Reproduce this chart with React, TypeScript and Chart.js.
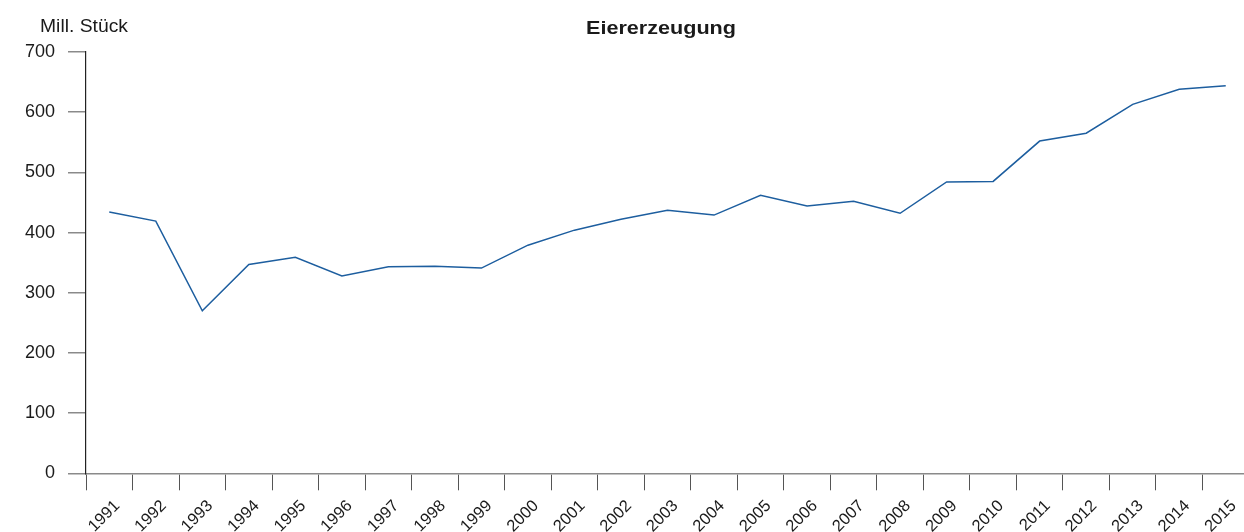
import React, { useEffect, useRef } from "react";
import { Chart, registerables } from "chart.js";

Chart.register(...registerables);

const years = ["1991","1992","1993","1994","1995","1996","1997","1998","1999","2000","2001","2002","2003","2004","2005","2006","2007","2008","2009","2010","2011","2012","2013","2014","2015"];
const eggs = [434, 419, 270, 347, 359, 328, 343, 344, 341, 379, 404, 422, 437, 429, 462, 444, 452, 432, 484, 485, 552, 565, 613, 638, 644];
const yTicks = [0, 100, 200, 300, 400, 500, 600, 700];
const titleText = "Eiererzeugung";
const unitText = "Mill. Stück";

const FONT = '"Liberation Sans", Arial, sans-serif';

function drawStretched(ctx: CanvasRenderingContext2D, text: string, left: number, baseline: number, targetWidth: number) {
  const w = ctx.measureText(text).width;
  const sx = targetWidth / w;
  ctx.save();
  ctx.translate(left, baseline);
  ctx.scale(sx, 1);
  ctx.textAlign = "left";
  ctx.fillText(text, 0, 0);
  ctx.restore();
}

const textPlugin = {
  id: "texts",
  afterDraw(chart: any) {
    const ctx = chart.ctx as CanvasRenderingContext2D;
    ctx.save();
    ctx.fillStyle = "#1a1a1a";
    ctx.textBaseline = "alphabetic";
    ctx.font = `bold 18.5px ${FONT}`;
    drawStretched(ctx, titleText, 586, 34, 150);
    ctx.font = `17.5px ${FONT}`;
    drawStretched(ctx, unitText, 40, 32, 88);
    ctx.restore();
  },
};

export default function App() {
  const ref = useRef<HTMLCanvasElement>(null);
  useEffect(() => {
    if (!ref.current) return;
    const chart = new Chart(ref.current, {
      type: "line",
      data: {
        labels: years,
        datasets: [
          {
            data: eggs,
            borderColor: "#1d5e9f",
            borderWidth: 1.5,
            pointRadius: 0,
            tension: 0,
            fill: false,
          },
        ],
      },
      options: {
        animation: false,
        responsive: false,
        maintainAspectRatio: false,
        layout: { padding: { top: 52, right: 3, bottom: 0, left: 0 } },
        plugins: { legend: { display: false }, tooltip: { enabled: false }, title: { display: false } },
        scales: {
          x: {
            type: "category",
            offset: true,
            grid: {
              offset: true,
              drawOnChartArea: false,
              drawTicks: true,
              tickLength: 17,
              color: "#555",
              lineWidth: 1,
            },
            border: { display: true, color: "#8a8a8a", width: 1.5 },
            ticks: {
              autoSkip: false,
              minRotation: 45,
              maxRotation: 45,
              labelOffset: 8,
              padding: 6,
              color: "#1a1a1a",
              font: { family: FONT, size: 16.5 },
            },
            afterFit(scale: any) {
              scale.height = 58.7;
            },
          },
          y: {
            min: 0,
            max: 700,
            afterBuildTicks(scale: any) {
              scale.ticks = yTicks.map((v) => ({ value: v }));
            },
            grid: {
              drawOnChartArea: false,
              drawTicks: true,
              tickLength: 18,
              color: "#8a8a8a",
              lineWidth: 1.5,
            },
            border: { display: true, color: "#222", width: 1.2 },
            ticks: {
              padding: 13,
              color: "#1a1a1a",
              font: { family: FONT, size: 18 },
            },
            afterFit(scale: any) {
              scale.width = 86;
            },
          },
        },
      },
      plugins: [textPlugin],
    });
    return () => chart.destroy();
  }, []);
  return (
    <div style={{ position: "fixed", left: 0, top: 0, width: 1252, height: 532, background: "#fff" }}>
      <canvas ref={ref} width={1252} height={532} style={{ display: "block" }} />
    </div>
  );
}
